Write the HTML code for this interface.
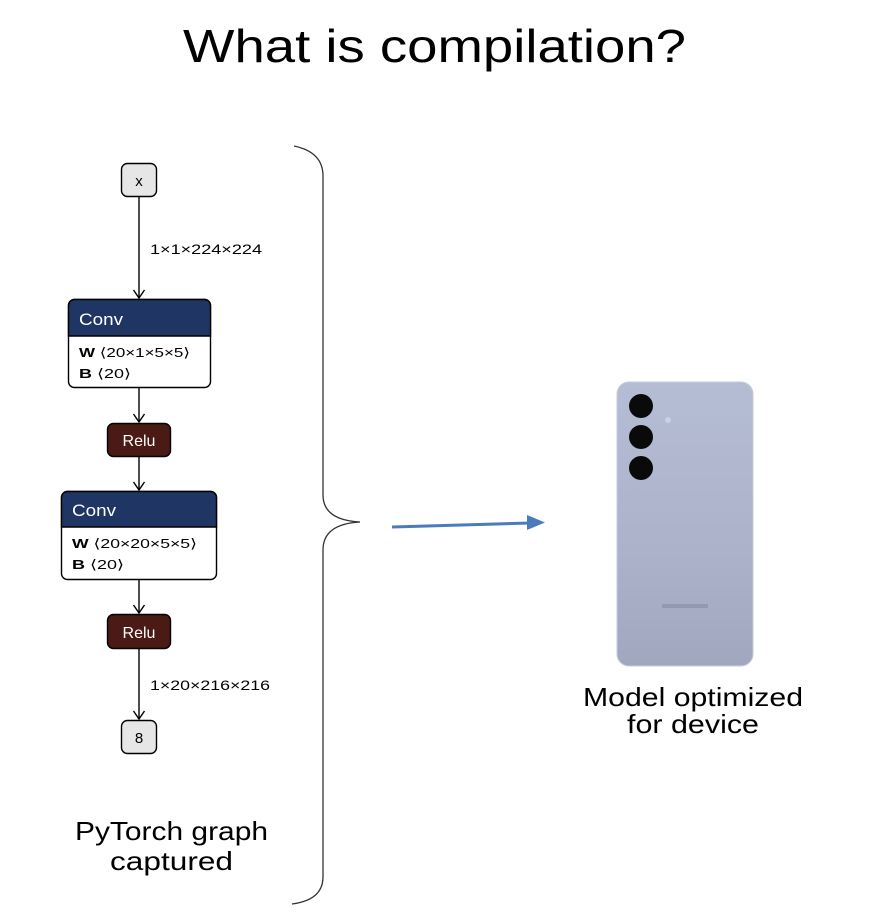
<!DOCTYPE html>
<html><head><meta charset="utf-8"><style>
html,body{margin:0;padding:0;background:#fff;}
svg{display:block}
text{font-family:"Liberation Sans","DejaVu Sans",sans-serif;}
</style></head><body>
<svg width="889" height="914" viewBox="0 0 889 914" xmlns="http://www.w3.org/2000/svg">
<defs>
<linearGradient id="ph" x1="0" y1="0" x2="0" y2="1">
<stop offset="0" stop-color="#b5bdd4"/><stop offset="0.6" stop-color="#abb2ca"/><stop offset="1" stop-color="#a0a7bf"/>
</linearGradient>
</defs>
<text x="183" y="62" font-size="46" textLength="503" lengthAdjust="spacingAndGlyphs" fill="#000">What is compilation?</text>

<!-- edges -->
<g stroke="#000" stroke-width="1.4" fill="none">
<line x1="139" y1="197" x2="139" y2="298"/>
<path d="M133.5,290 L139,298 L144.5,290"/>
<line x1="139" y1="387" x2="139" y2="422"/>
<path d="M133.5,414 L139,422 L144.5,414"/>
<line x1="139" y1="457" x2="139" y2="490"/>
<path d="M133.5,482 L139,490 L144.5,482"/>
<line x1="139" y1="579" x2="139" y2="613"/>
<path d="M133.5,605 L139,613 L144.5,605"/>
<line x1="139" y1="649" x2="139" y2="719"/>
<path d="M133.5,711 L139,719 L144.5,711"/>
</g>
<text x="150" y="254" font-size="14" textLength="112" lengthAdjust="spacingAndGlyphs" fill="#000">1×1×224×224</text>
<text x="150" y="690" font-size="14" textLength="120" lengthAdjust="spacingAndGlyphs" fill="#000">1×20×216×216</text>

<!-- x node -->
<rect x="121.5" y="163.5" width="35" height="33" rx="6" fill="#e6e6e6" stroke="#000" stroke-width="1.4"/>
<text x="139" y="186" font-size="15" text-anchor="middle">x</text>

<!-- conv1 -->
<rect x="68.5" y="299.5" width="142" height="88" rx="6" fill="#fff" stroke="#000" stroke-width="1.4"/>
<path d="M68.5,336 V305.5 a6,6 0 0 1 6,-6 H204.5 a6,6 0 0 1 6,6 V336 Z" fill="#1f3563" stroke="#000" stroke-width="1.4"/>
<text x="79" y="325" font-size="17" textLength="44" lengthAdjust="spacingAndGlyphs" fill="#fff">Conv</text>
<text x="79" y="357" font-size="13" textLength="111" lengthAdjust="spacingAndGlyphs"><tspan font-weight="bold">W</tspan> ⟨20×1×5×5⟩</text>
<text x="79" y="378" font-size="13" textLength="52" lengthAdjust="spacingAndGlyphs"><tspan font-weight="bold">B</tspan> ⟨20⟩</text>

<!-- relu1 -->
<rect x="107.5" y="423.5" width="63" height="33" rx="6" fill="#4a1a14" stroke="#000" stroke-width="1.4"/>
<text x="139" y="446" font-size="16" fill="#fff" text-anchor="middle">Relu</text>

<!-- conv2 -->
<rect x="61.5" y="491.5" width="155" height="88" rx="6" fill="#fff" stroke="#000" stroke-width="1.4"/>
<path d="M61.5,527 V497.5 a6,6 0 0 1 6,-6 H210.5 a6,6 0 0 1 6,6 V527 Z" fill="#1f3563" stroke="#000" stroke-width="1.4"/>
<text x="72" y="516" font-size="17" textLength="44" lengthAdjust="spacingAndGlyphs" fill="#fff">Conv</text>
<text x="72" y="548" font-size="13" textLength="125" lengthAdjust="spacingAndGlyphs"><tspan font-weight="bold">W</tspan> ⟨20×20×5×5⟩</text>
<text x="72" y="569" font-size="13" textLength="52" lengthAdjust="spacingAndGlyphs"><tspan font-weight="bold">B</tspan> ⟨20⟩</text>

<!-- relu2 -->
<rect x="107.5" y="614.5" width="63" height="34" rx="6" fill="#4a1a14" stroke="#000" stroke-width="1.4"/>
<text x="139" y="638" font-size="16" fill="#fff" text-anchor="middle">Relu</text>

<!-- 8 node -->
<rect x="121.5" y="720.5" width="35" height="33" rx="6" fill="#e6e6e6" stroke="#000" stroke-width="1.4"/>
<text x="139" y="743" font-size="15" text-anchor="middle">8</text>

<text x="75" y="840" font-size="26" textLength="193" lengthAdjust="spacingAndGlyphs">PyTorch graph</text>
<text x="110" y="870" font-size="26" textLength="123" lengthAdjust="spacingAndGlyphs">captured</text>

<!-- brace -->
<path d="M294,146 Q323,152 323,176 V495 Q323,520 360,522 Q323,524 323,550 V877 Q323,900 292,904" fill="none" stroke="#333" stroke-width="1.3"/>

<!-- arrow -->
<line x1="392" y1="527" x2="530" y2="523" stroke="#4a7bbd" stroke-width="3"/>
<path d="M545,522.5 L527,515 L527,530 Z" fill="#4a7bbd"/>

<!-- phone -->
<rect x="617" y="382" width="136" height="284" rx="12" fill="url(#ph)" stroke="#c7cbd8" stroke-width="1"/>
<circle cx="641" cy="406" r="12" fill="#0a0a0a"/>
<circle cx="641" cy="437" r="12" fill="#0a0a0a"/>
<circle cx="641" cy="468" r="12" fill="#0a0a0a"/>
<circle cx="668" cy="420" r="3" fill="#c9d0e4"/>
<rect x="662" y="604" width="46" height="4" fill="#939ab0"/>

<text x="583" y="706" font-size="26" textLength="220" lengthAdjust="spacingAndGlyphs">Model optimized</text>
<text x="627" y="733" font-size="26" textLength="132" lengthAdjust="spacingAndGlyphs">for device</text>
</svg>
</body></html>
